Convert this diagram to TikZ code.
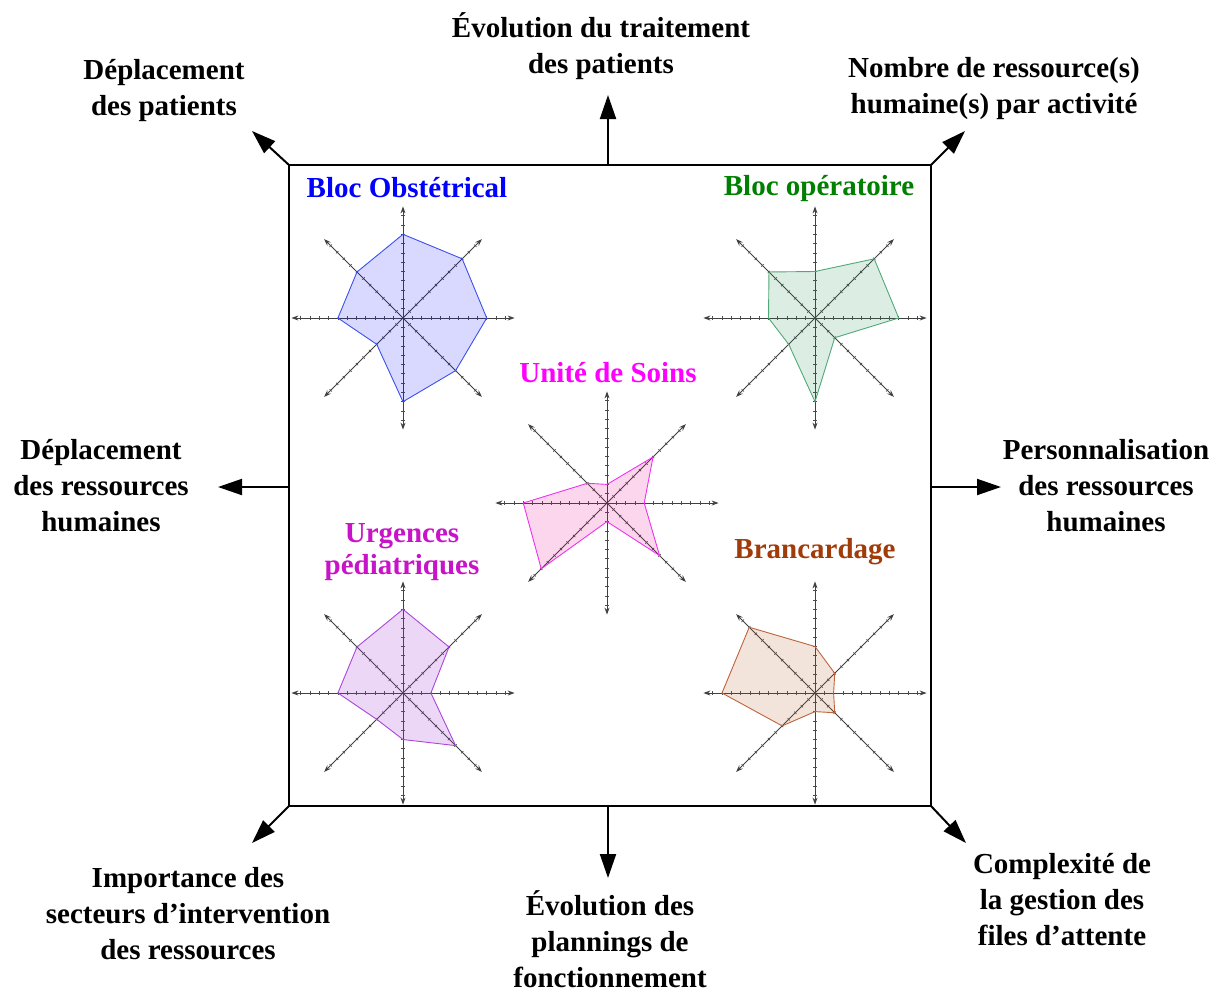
\documentclass[tikz,border=0pt]{standalone}
\usepackage{fontspec}
\setmainfont{Liberation Serif}
\usetikzlibrary{arrows.meta,calc}
\definecolor{boT}{RGB}{0,0,255}
\definecolor{boL}{RGB}{60,80,240}
\definecolor{opT}{RGB}{0,128,0}
\definecolor{opL}{RGB}{80,170,120}
\definecolor{opF}{RGB}{40,140,80}
\definecolor{usT}{RGB}{255,0,255}
\definecolor{usL}{RGB}{240,50,240}
\definecolor{upT}{RGB}{200,20,200}
\definecolor{upL}{RGB}{170,70,220}
\definecolor{upF}{RGB}{160,60,210}
\definecolor{brT}{RGB}{160,60,10}
\definecolor{brL}{RGB}{190,100,60}
\definecolor{brF}{RGB}{180,90,40}
\def\ru{9.3}
\newcommand\radar[1]{%
  \foreach \a in {0,45,90,135}{%
    \draw[raxis, shift={(#1)}, rotate=\a] (-12*\ru,0) -- (12*\ru,0);
    \foreach \k in {-11,...,-1,1,2,...,11}{%
      \draw[rtick, shift={(#1)}, rotate=\a] (\k*\ru,-1.6) -- (\k*\ru,1.6);
    }%
  }%
}
\newcommand\rpoly[9]{%
  \draw[#1] (-90:#2*\ru) -- (-45:#3*\ru) -- (0:#4*\ru) -- (45:#5*\ru) -- (90:#6*\ru) -- (135:#7*\ru) -- (180:#8*\ru) -- (225:#9*\ru) -- cycle;
}
\begin{document}
\begin{tikzpicture}[x=1pt,y=-1pt,
  lbl/.style={font=\bfseries\fontsize{29}{36}\selectfont, align=center, inner sep=0pt},
  ttl/.style={font=\bfseries\fontsize{29}{32}\selectfont, align=center, inner sep=0pt, anchor=base},
  bigarrow/.style={line width=2pt, -{Triangle[length=24pt,width=16pt]}},
  raxis/.style={line width=0.9pt, black!75, {Stealth[length=7pt,width=5pt]}-{Stealth[length=7pt,width=5pt]}},
  rtick/.style={line width=0.7pt, black!70},
  polybo/.style={draw=boL, line width=0.9pt, fill=blue, fill opacity=0.15},
  polyop/.style={draw=opL, line width=0.9pt, fill=opF, fill opacity=0.16},
  polyus/.style={draw=usL, line width=0.9pt, fill=magenta, fill opacity=0.16},
  polyup/.style={draw=upL, line width=0.9pt, fill=upF, fill opacity=0.2},
  polybr/.style={draw=brL, line width=0.9pt, fill=brF, fill opacity=0.17}]
\useasboundingbox (0,0) rectangle (1220,994);

% main square
\node[draw, line width=2.2pt, minimum width=642pt, minimum height=641pt, inner sep=0pt, outer sep=0pt] (sq) at (610,485.5) {};

% outer labels
\node[lbl] (lN)  at (601,46)    {Évolution du traitement\\des patients};
\node[lbl] (lNW) at (164,91)    {Déplacement\\des patients};
\node[lbl] (lNE) at (994,89)    {Nombre de ressource(s)\\humaine(s) par activité};
\node[lbl] (lW)  at (101,486) {Déplacement\\des ressources\\humaines};
\node[lbl] (lE)  at (1106,486){Personnalisation\\des ressources\\humaines};
\node[lbl] (lSW) at (188,913.5) {Importance des\\secteurs d’intervention\\des ressources};
\node[lbl] (lS)  at (610,939.5)   {Évolution des\\plannings de\\fonctionnement};
\node[lbl] (lSE) at (1062,899.5){Complexité de\\la gestion des\\files d’attente};

% arrow ends
\coordinate (tN)  at (608,95);
\coordinate (tS)  at (608,878);
\coordinate (tW)  at (218,487);
\coordinate (tE)  at (1001,487);
\coordinate (tNW) at (252,131);
\coordinate (tNE) at (965,131);
\coordinate (tSW) at (252,843);
\coordinate (tSE) at (966,843);

\draw[bigarrow] (tN |- sq.north) -- (tN);
\draw[bigarrow] (tS |- sq.south) -- (tS);
\draw[bigarrow] (tW -| sq.west) -- (tW);
\draw[bigarrow] (tE -| sq.east) -- (tE);
\draw[bigarrow] (sq.north west) -- (tNW);
\draw[bigarrow] (sq.north east) -- (tNE);
\draw[bigarrow] (sq.south west) -- (tSW);
\draw[bigarrow] (sq.south east) -- (tSE);

% radar centres
\coordinate (cbo) at (403,318);
\coordinate (cop) at (815,318);
\coordinate (cus) at (607,503);
\coordinate (cup) at (403,693);
\coordinate (cbr) at (815,693);

\radar{cbo}
\radar{cop}
\radar{cus}
\radar{cup}
\radar{cbr}

\begin{scope}[shift={(cbo)}]\rpoly{polybo}{9}{9}{9}{8}{9}{4}{7}{7}\end{scope}
\begin{scope}[shift={(cop)}]\rpoly{polyop}{5}{9}{9}{3}{9}{4}{5}{7}\end{scope}
\begin{scope}[shift={(cus)}]\rpoly{polyus}{2}{7}{4}{8}{2}{10}{9}{3}\end{scope}
\begin{scope}[shift={(cup)}]\rpoly{polyup}{9}{7}{3}{8}{5}{4}{7}{7}\end{scope}
\begin{scope}[shift={(cbr)}]\rpoly{polybr}{5}{3}{2}{3}{2}{5}{10}{10}\end{scope}

% chart titles
\node[ttl, text=boT] (tbo) at (407,197) {Bloc Obstétrical};
\node[ttl, text=opT] (top) at (819,195) {Bloc opératoire};
\node[ttl, text=usT] (tus) at (608,382) {Unité de Soins};
\node[ttl, text=upT, anchor=center] (tup) at (402,552) {Urgences\\pédiatriques};
\node[ttl, text=brT] (tbr) at (815,558) {Brancardage};
\end{tikzpicture}
\end{document}
